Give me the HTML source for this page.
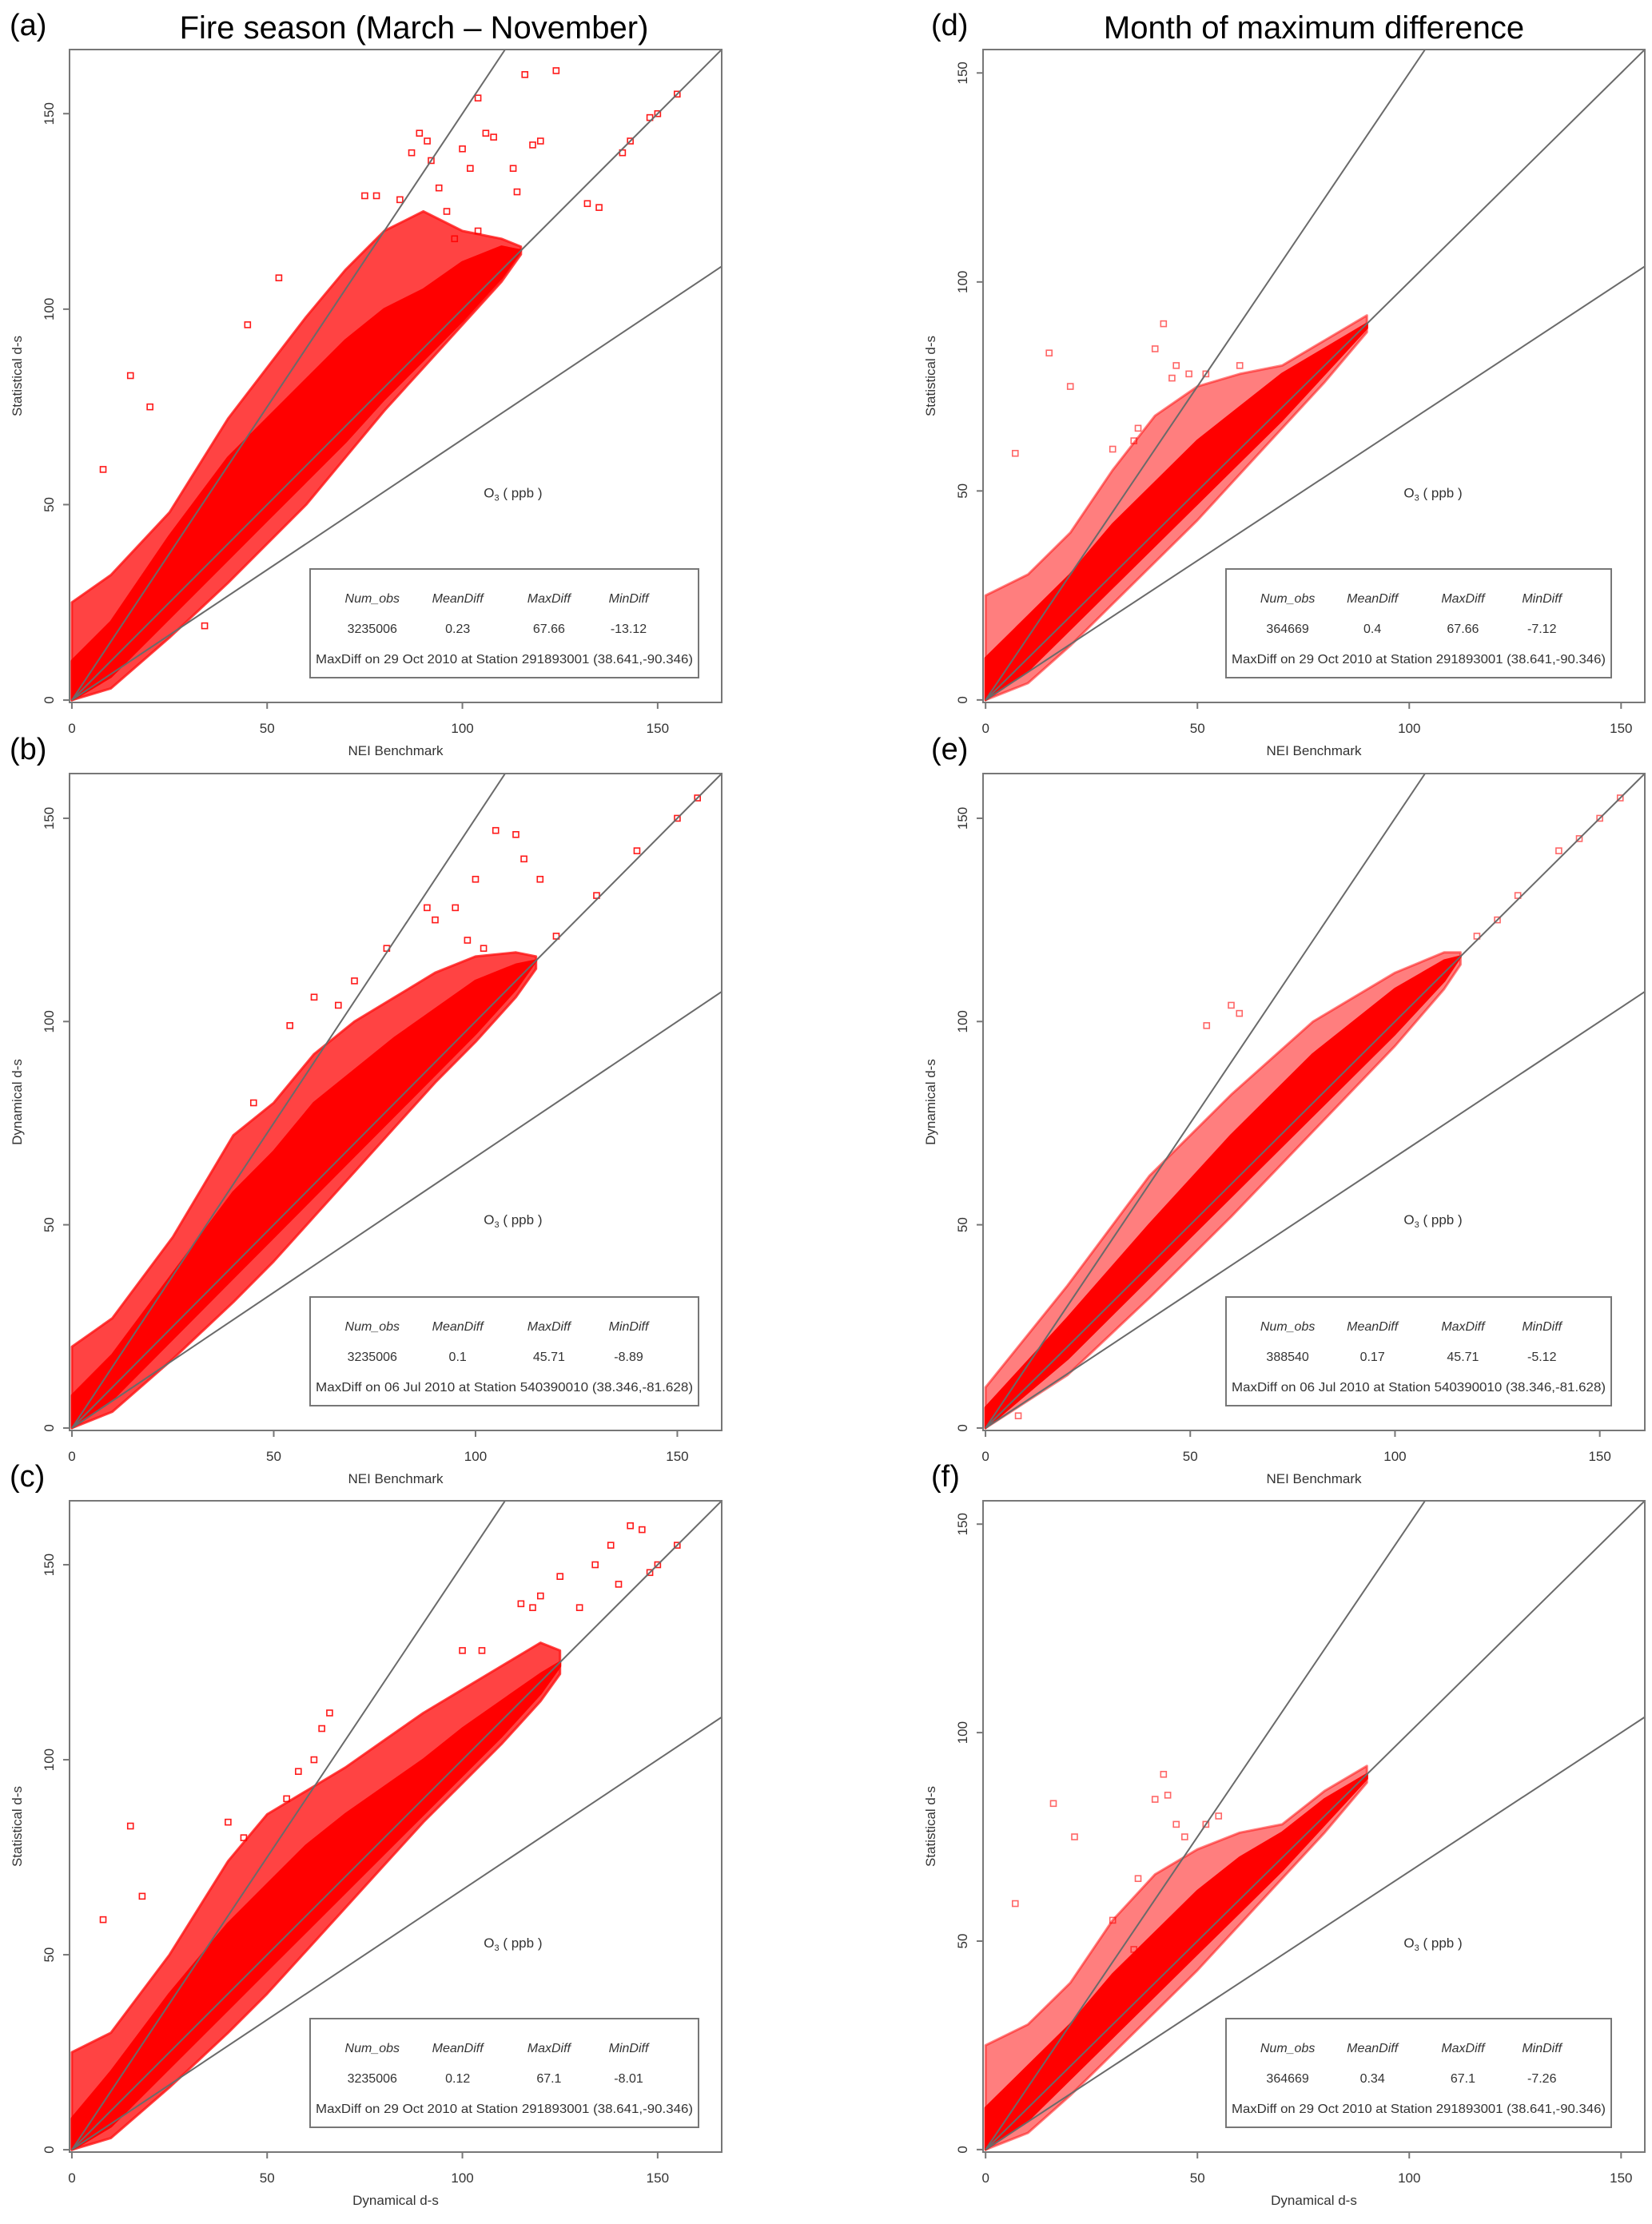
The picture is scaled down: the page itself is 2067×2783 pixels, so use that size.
<!DOCTYPE html>
<html><head><meta charset="utf-8"><title>O3 scatter comparison</title>
<style>
html,body{margin:0;padding:0;background:#fff;}
svg{display:block;font-family:"Liberation Sans",sans-serif;}
</style></head>
<body>
<svg id="fig" width="2067" height="2783" viewBox="0 0 2067 2783" xmlns="http://www.w3.org/2000/svg">
<text x="518" y="48" font-size="40" text-anchor="middle" fill="#000">Fire season (March – November)</text>
<text x="1644" y="48" font-size="40" text-anchor="middle" fill="#000">Month of maximum difference</text>
<g id="panels"></g>
</svg>
<script>
// ---------- data (data units) ----------
const ticks = [0, 50, 100, 150];
const refSlopes = [1.5, 1, 1/1.5];

// panel a
const aX = [0, 10, 25, 40, 50, 60, 70, 80, 90, 100, 110, 115];
const aCoreUp = [10, 20, 42, 62, 72, 82, 92, 100, 105, 112, 116, 115];
const aCoreLo = [0, 6, 21, 36, 46, 56, 66, 77, 87, 97, 108, 115];
const aFringeUp = [25, 32, 48, 72, 85, 98, 110, 120, 125, 120, 118, 116];
const aFringeLo = [0, 3, 16, 30, 40, 50, 62, 74, 85, 96, 107, 114];
const aOutX = [8, 15, 20, 45, 53, 75, 78, 84, 87, 89, 91, 92, 94, 100, 102, 104, 106, 108, 113, 114, 116, 118, 120, 124, 132, 135, 141, 143, 148, 150, 155, 96, 98, 104, 34];
const aOutY = [59, 83, 75, 96, 108, 129, 129, 128, 140, 145, 143, 138, 131, 141, 136, 154, 145, 144, 136, 130, 160, 142, 143, 161, 127, 126, 140, 143, 149, 150, 155, 125, 118, 120, 19];
const aStats = ["3235006", "0.23", "67.66", "-13.12"];
const aNote = "MaxDiff on 29 Oct 2010 at Station 291893001 (38.641,-90.346)";

// panel b
const bX = [0, 10, 25, 40, 50, 60, 70, 80, 90, 100, 110, 115];
const bCoreUp = [8, 18, 38, 58, 68, 80, 88, 96, 103, 110, 114, 115];
const bCoreLo = [0, 7, 22, 37, 47, 57, 67, 77, 87, 97, 108, 115];
const bFringeUp = [20, 27, 47, 72, 80, 92, 100, 106, 112, 116, 117, 116];
const bFringeLo = [0, 4, 17, 31, 41, 52, 63, 74, 85, 95, 106, 113];
const bOutX = [54, 60, 70, 78, 88, 90, 95, 100, 105, 110, 112, 116, 98, 102, 140, 150, 155, 130, 120, 45, 66];
const bOutY = [99, 106, 110, 118, 128, 125, 128, 135, 147, 146, 140, 135, 120, 118, 142, 150, 155, 131, 121, 80, 104];
const bStats = ["3235006", "0.1", "45.71", "-8.89"];
const bNote = "MaxDiff on 06 Jul 2010 at Station 540390010 (38.346,-81.628)";

// panel c
const cX = [0, 10, 25, 40, 50, 60, 70, 80, 90, 100, 110, 120, 125];
const cCoreUp = [8, 20, 40, 58, 68, 78, 86, 93, 100, 108, 115, 122, 125];
const cCoreLo = [0, 6, 21, 36, 46, 56, 66, 76, 86, 96, 106, 117, 124];
const cFringeUp = [25, 30, 50, 74, 86, 92, 98, 105, 112, 118, 124, 130, 128];
const cFringeLo = [0, 3, 16, 30, 40, 51, 62, 73, 84, 94, 104, 115, 122];
const cOutX = [8, 15, 18, 40, 44, 55, 58, 62, 64, 66, 100, 105, 115, 118, 120, 125, 130, 134, 138, 143, 146, 148, 150, 155, 140];
const cOutY = [59, 83, 65, 84, 80, 90, 97, 100, 108, 112, 128, 128, 140, 139, 142, 147, 139, 150, 155, 160, 159, 148, 150, 155, 145];
const cStats = ["3235006", "0.12", "67.1", "-8.01"];
const cNote = "MaxDiff on 29 Oct 2010 at Station 291893001 (38.641,-90.346)";

// panel d
const dX = [0, 10, 20, 30, 40, 50, 60, 70, 80, 90];
const dCoreUp = [10, 20, 30, 42, 52, 62, 70, 78, 84, 90];
const dCoreLo = [0, 7, 17, 27, 37, 47, 57, 67, 78, 89];
const dFringeUp = [25, 30, 40, 55, 68, 75, 78, 80, 86, 92];
const dFringeLo = [0, 4, 13, 23, 33, 43, 54, 65, 76, 88];
const dOutX = [7, 15, 20, 40, 42, 45, 48, 52, 60, 30, 36, 35, 44];
const dOutY = [59, 83, 75, 84, 90, 80, 78, 78, 80, 60, 65, 62, 77];
const dStats = ["364669", "0.4", "67.66", "-7.12"];
const dNote = "MaxDiff on 29 Oct 2010 at Station 291893001 (38.641,-90.346)";

// panel e
const eX = [0, 20, 40, 60, 80, 100, 112, 116];
const eCoreUp = [5, 27, 50, 72, 92, 108, 115, 116];
const eCoreLo = [0, 17, 37, 57, 77, 97, 110, 116];
const eFringeUp = [10, 35, 62, 82, 100, 112, 117, 117];
const eFringeLo = [0, 13, 32, 52, 73, 94, 108, 114];
const eOutX = [54, 60, 62, 130, 140, 145, 150, 155, 120, 125, 8];
const eOutY = [99, 104, 102, 131, 142, 145, 150, 155, 121, 125, 3];
const eStats = ["388540", "0.17", "45.71", "-5.12"];
const eNote = "MaxDiff on 06 Jul 2010 at Station 540390010 (38.346,-81.628)";

// panel f
const fX = [0, 10, 20, 30, 40, 50, 60, 70, 80, 90];
const fCoreUp = [10, 20, 30, 42, 52, 62, 70, 76, 84, 90];
const fCoreLo = [0, 7, 17, 27, 37, 47, 57, 67, 78, 89];
const fFringeUp = [25, 30, 40, 55, 66, 72, 76, 78, 86, 92];
const fFringeLo = [0, 4, 13, 23, 33, 43, 54, 65, 76, 88];
const fOutX = [7, 16, 21, 40, 42, 43, 45, 52, 55, 30, 36, 35, 47];
const fOutY = [59, 83, 75, 84, 90, 85, 78, 78, 80, 55, 65, 48, 75];
const fStats = ["364669", "0.34", "67.1", "-7.26"];
const fNote = "MaxDiff on 29 Oct 2010 at Station 291893001 (38.641,-90.346)";

// ---------- layout ----------
const NS = "http://www.w3.org/2000/svg";
const root = document.getElementById('panels');
function mk(tag, attrs, parent) {
  const e = document.createElementNS(NS, tag);
  for (const k in attrs) e.setAttribute(k, attrs[k]);
  (parent || root).appendChild(e);
  return e;
}
const panels = [
  {id:'a', L:87, R:903, T:62, B:879, max:166.4, lab:'(a)', lx:12, xt:'NEI Benchmark', yt:'Statistical d-s', x:aX, cu:aCoreUp, cl:aCoreLo, fu:aFringeUp, fl:aFringeLo, ox:aOutX, oy:aOutY, st:aStats, note:aNote, alpha:1},
  {id:'b', L:87, R:903, T:968, B:1790, max:161, lab:'(b)', lx:12, xt:'NEI Benchmark', yt:'Dynamical d-s', x:bX, cu:bCoreUp, cl:bCoreLo, fu:bFringeUp, fl:bFringeLo, ox:bOutX, oy:bOutY, st:bStats, note:bNote, alpha:1},
  {id:'c', L:87, R:903, T:1878, B:2693, max:166.4, lab:'(c)', lx:12, xt:'Dynamical d-s', yt:'Statistical d-s', x:cX, cu:cCoreUp, cl:cCoreLo, fu:cFringeUp, fl:cFringeLo, ox:cOutX, oy:cOutY, st:cStats, note:cNote, alpha:1},
  {id:'d', L:1230, R:2058, T:62, B:879, max:155.6, lab:'(d)', lx:1165, xt:'NEI Benchmark', yt:'Statistical d-s', x:dX, cu:dCoreUp, cl:dCoreLo, fu:dFringeUp, fl:dFringeLo, ox:dOutX, oy:dOutY, st:dStats, note:dNote, alpha:0.6},
  {id:'e', L:1230, R:2058, T:968, B:1790, max:161, lab:'(e)', lx:1165, xt:'NEI Benchmark', yt:'Dynamical d-s', x:eX, cu:eCoreUp, cl:eCoreLo, fu:eFringeUp, fl:eFringeLo, ox:eOutX, oy:eOutY, st:eStats, note:eNote, alpha:0.6},
  {id:'f', L:1230, R:2058, T:1878, B:2693, max:155.6, lab:'(f)', lx:1165, xt:'Dynamical d-s', yt:'Statistical d-s', x:fX, cu:fCoreUp, cl:fCoreLo, fu:fFringeUp, fl:fFringeLo, ox:fOutX, oy:fOutY, st:fStats, note:fNote, alpha:0.6}
];
const MIN = -0.6;

panels.forEach(p => {
  const g = mk('g', {});
  
  
  const sx = v => p.L + (v - MIN) / (p.max - MIN) * (p.R - p.L);
  const sy = v => p.B - (v - MIN) / (p.max - MIN) * (p.B - p.T);
  const clipId = 'clip' + p.id;
  const cp = mk('clipPath', {id: clipId}, g);
  mk('rect', {x:p.L, y:p.T, width:p.R-p.L, height:p.B-p.T}, cp);
  const inner = mk('g', {'clip-path':'url(#' + clipId + ')'}, g);

  function band(up, lo, fill, name) {
    let d = '';
    p.x.forEach((xv, i) => { d += (i ? 'L' : 'M') + sx(xv).toFixed(1) + ' ' + sy(up[i]).toFixed(1); });
    for (let i = p.x.length - 1; i >= 0; i--) d += 'L' + sx(p.x[i]).toFixed(1) + ' ' + sy(lo[i]).toFixed(1);
    const e = mk('path', {d: d + 'Z', fill: fill, stroke: fill, 'stroke-width': 3, 'stroke-linejoin': 'round'}, inner);
    
    
  }
  band(p.fu, p.fl, 'rgba(255,20,20,' + (p.alpha === 1 ? 0.8 : 0.55) + ')', 'scatter-fringe');
  band(p.cu, p.cl, '#ff0000', 'scatter-core');

  p.ox.forEach((xv, i) => {
    const e = mk('rect', {x: sx(xv) - 3.5, y: sy(p.oy[i]) - 3.5, width: 7, height: 7, fill: 'none', stroke: 'rgba(255,0,0,' + (0.75 * p.alpha + 0.15) + ')', 'stroke-width': 1.6}, inner);
    
    
  });

  refSlopes.forEach(s => {
    const xe = Math.min(p.max, p.max / s);
    const e = mk('line', {x1: sx(0), y1: sy(0), x2: sx(xe), y2: sy(xe * s), stroke: '#6a6a6a', 'stroke-width': 2}, inner);
    
    
  });

  const box = mk('rect', {x:p.L, y:p.T, width:p.R-p.L, height:p.B-p.T, fill:'none', stroke:'#777', 'stroke-width':2}, g);
  
  

  ticks.forEach(t => {
    if (t > p.max) return;
    mk('line', {x1: sx(t), y1: p.B, x2: sx(t), y2: p.B + 8, stroke: '#777', 'stroke-width': 2}, g);
    const tx = mk('text', {x: sx(t), y: p.B + 38, 'font-size': 17, 'text-anchor': 'middle', fill: '#333'}, g);
    tx.textContent = t;
    
    
    mk('line', {x1: p.L, y1: sy(t), x2: p.L - 8, y2: sy(t), stroke: '#777', 'stroke-width': 2}, g);
    const ty = mk('text', {x: p.L - 20, y: sy(t), 'font-size': 17, 'text-anchor': 'middle', fill: '#333', transform: 'rotate(-90 ' + (p.L - 20) + ' ' + sy(t) + ')'}, g);
    ty.textContent = t;
    
    
  });

  const xt = mk('text', {x: (p.L + p.R) / 2, y: p.B + 66, 'font-size': 17, 'text-anchor': 'middle', fill: '#333'}, g);
  xt.textContent = p.xt;
  
  
  const yx = p.L - 60, yy = (p.T + p.B) / 2;
  const yt = mk('text', {x: yx, y: yy, 'font-size': 17, 'text-anchor': 'middle', fill: '#333', transform: 'rotate(-90 ' + yx + ' ' + yy + ')'}, g);
  yt.textContent = p.yt;
  
  

  const lab = mk('text', {x: p.lx, y: p.T - 18, 'font-size': 38, fill: '#000'}, g);
  lab.textContent = p.lab;
  
  

  const ox = p.L + 0.68 * (p.R - p.L), oy = p.T + 0.686 * (p.B - p.T);
  const o3 = mk('text', {x: ox, y: oy, 'font-size': 17, 'text-anchor': 'middle', fill: '#333'}, g);
  o3.innerHTML = 'O<tspan font-size="11" dy="4">3</tspan><tspan dy="-4"> ( ppb )</tspan>';
  
  

  const bw = p.id < 'd' ? 486 : 482;
  const bR = p.id < 'd' ? p.R - 29 : p.R - 42;
  const bx = bR - bw, bB = p.B - 31, by = bB - 136;
  const sb = mk('g', {}, g);
  
  
  mk('rect', {x: bx, y: by, width: bw, height: 136, fill: '#fff', stroke: '#777', 'stroke-width': 2}, sb);
  const heads = ['Num_obs', 'MeanDiff', 'MaxDiff', 'MinDiff'];
  const cols = [0.16, 0.38, 0.615, 0.82];
  heads.forEach((h, i) => {
    const ht = mk('text', {x: bx + cols[i] * bw, y: by + 42, 'font-size': 16, 'font-style': 'italic', 'text-anchor': 'middle', fill: '#333'}, sb);
    ht.textContent = h;
    
    
    const vt = mk('text', {x: bx + cols[i] * bw, y: by + 80, 'font-size': 16, 'text-anchor': 'middle', fill: '#333'}, sb);
    vt.textContent = p.st[i];
    
    
  });
  const nt = mk('text', {x: bx + bw / 2, y: by + 118, 'font-size': 16, 'text-anchor': 'middle', fill: '#333', textLength: bw - 14, lengthAdjust: 'spacingAndGlyphs'}, sb);
  nt.textContent = p.note;
  
  
});
</script>
</body></html>
